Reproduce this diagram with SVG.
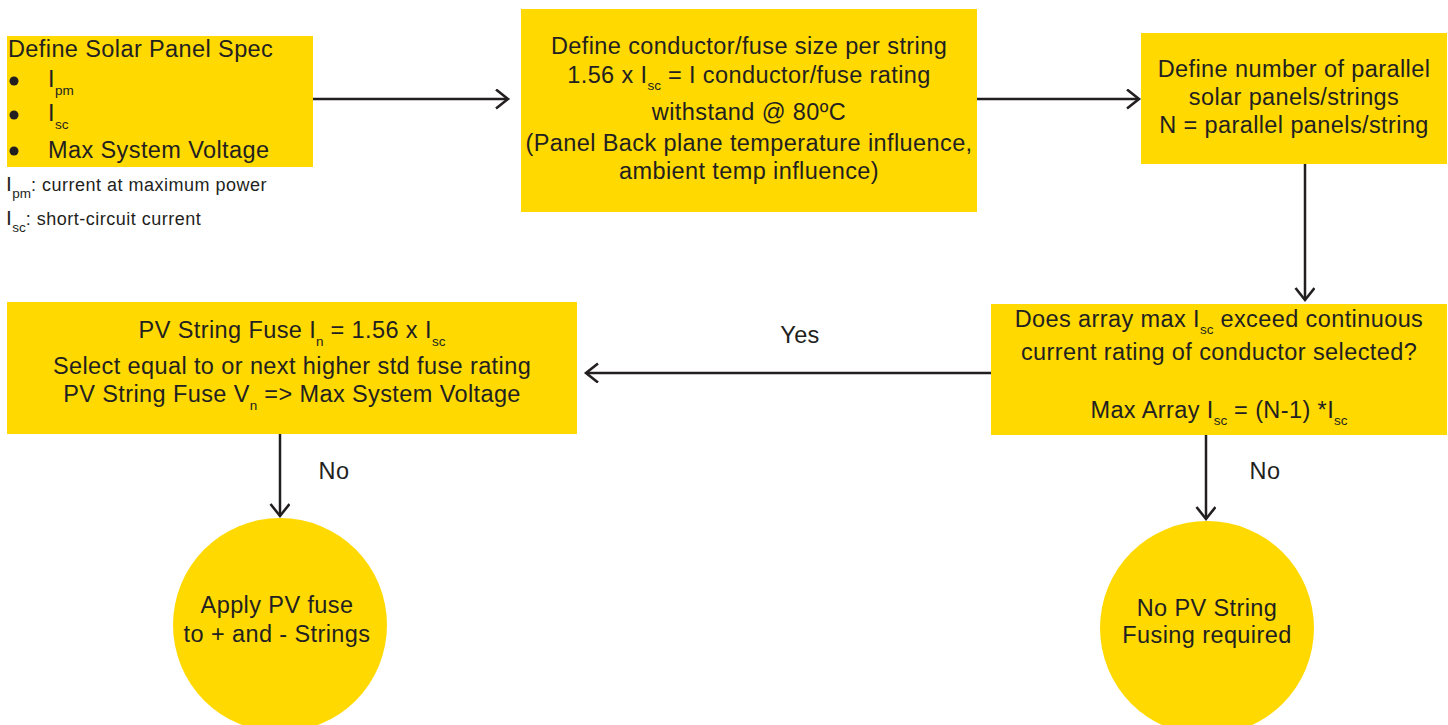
<svg xmlns="http://www.w3.org/2000/svg" width="1448" height="725" viewBox="0 0 1448 725">
<defs>
<style>
.box{fill:#FFD900;}
.t{font-family:"Liberation Sans",Arial,sans-serif;font-size:23.5px;letter-spacing:0.4px;fill:#231f20;}
.c{text-anchor:middle;}
.s{font-size:13.5px;letter-spacing:0;}
.n{font-family:"Liberation Sans",Arial,sans-serif;font-size:18px;letter-spacing:0.5px;fill:#231f20;}
.ln{stroke:#231f20;stroke-width:2.5;fill:none;}
</style>
<marker id="ah" markerUnits="userSpaceOnUse" markerWidth="20" markerHeight="24" refX="13" refY="10" orient="auto" viewBox="0 0 20 24">
<path d="M1,0.5 L13,10 L1,19.5" fill="none" stroke="#231f20" stroke-width="2.6"/>
</marker>
</defs>
<g id="connectors">
<line class="ln" x1="313" y1="99" x2="508" y2="99" marker-end="url(#ah)"/>
<line class="ln" x1="977" y1="99" x2="1139" y2="99" marker-end="url(#ah)"/>
<line class="ln" x1="1305" y1="164" x2="1305" y2="300" marker-end="url(#ah)"/>
<line class="ln" x1="991" y1="373" x2="586" y2="373" marker-end="url(#ah)"/>
<line class="ln" x1="280" y1="434" x2="280" y2="516" marker-end="url(#ah)"/>
<line class="ln" x1="1206" y1="435" x2="1206" y2="519" marker-end="url(#ah)"/>
<text class="t c" x="800" y="343">Yes</text>
<text class="t c" x="334" y="479">No</text>
<text class="t c" x="1265" y="479">No</text>
</g>
<g id="n1">
<rect class="box" x="7" y="36" width="306" height="131"/>
<text class="t" x="8" y="57">Define Solar Panel Spec</text>
<circle cx="14" cy="81" r="4.5" fill="#231f20"/>
<circle cx="14" cy="115" r="4.5" fill="#231f20"/>
<circle cx="14" cy="151" r="4.5" fill="#231f20"/>
<text class="t" x="48" y="87">I<tspan class="s" dy="8">pm</tspan></text>
<text class="t" x="48" y="121">I<tspan class="s" dy="8">sc</tspan></text>
<text class="t" x="48" y="158">Max System Voltage</text>
</g>
<g id="notes">
<text class="t" x="6" y="191" style="font-size:21px">I<tspan class="s" dy="7">pm</tspan><tspan class="n" dy="-7">: current at maximum power</tspan></text>
<text class="t" x="6" y="225" style="font-size:21px">I<tspan class="s" dy="7">sc</tspan><tspan class="n" dy="-7">: short-circuit current</tspan></text>
</g>
<g id="n2">
<rect class="box" x="521" y="9" width="456" height="203"/>
<text class="t c" x="749" y="54">Define conductor/fuse size per string</text>
<text class="t c" x="749" y="83">1.56 x I<tspan class="s" dy="7">sc</tspan><tspan dy="-7"> = I conductor/fuse rating</tspan></text>
<text class="t c" x="749" y="120">withstand @ 80ºC</text>
<text class="t c" x="749" y="151">(Panel Back plane temperature influence,</text>
<text class="t c" x="749" y="179">ambient temp influence)</text>
</g>
<g id="n3">
<rect class="box" x="1141" y="33" width="306" height="131"/>
<text class="t c" x="1294" y="77">Define number of parallel</text>
<text class="t c" x="1294" y="105">solar panels/strings</text>
<text class="t c" x="1294" y="133">N = parallel panels/string</text>
</g>
<g id="n4">
<rect class="box" x="991" y="304" width="456" height="131"/>
<text class="t c" x="1219" y="327">Does array max I<tspan class="s" dy="7">sc</tspan><tspan dy="-7"> exceed continuous</tspan></text>
<text class="t c" x="1219" y="360">current rating of conductor selected?</text>
<text class="t c" x="1219" y="418">Max Array I<tspan class="s" dy="7">sc</tspan><tspan dy="-7"> = (N-1) *I</tspan><tspan class="s" dy="7">sc</tspan></text>
</g>
<g id="n5">
<rect class="box" x="7" y="302" width="570" height="132"/>
<text class="t c" x="292" y="338">PV String Fuse I<tspan class="s" dy="8">n</tspan><tspan dy="-8"> = 1.56 x I</tspan><tspan class="s" dy="8">sc</tspan></text>
<text class="t c" x="292" y="374">Select equal to or next higher std fuse rating</text>
<text class="t c" x="292" y="402">PV String Fuse V<tspan class="s" dy="8">n</tspan><tspan dy="-8"> =&gt; Max System Voltage</tspan></text>
</g>
<g id="n6">
<circle class="box" cx="280" cy="625" r="107"/>
<text class="t c" x="277" y="613">Apply PV fuse</text>
<text class="t c" x="277" y="642">to + and - Strings</text>
</g>
<g id="n7">
<circle class="box" cx="1207" cy="628" r="107"/>
<text class="t c" x="1207" y="616">No PV String</text>
<text class="t c" x="1207" y="643">Fusing required</text>
</g>
</svg>
